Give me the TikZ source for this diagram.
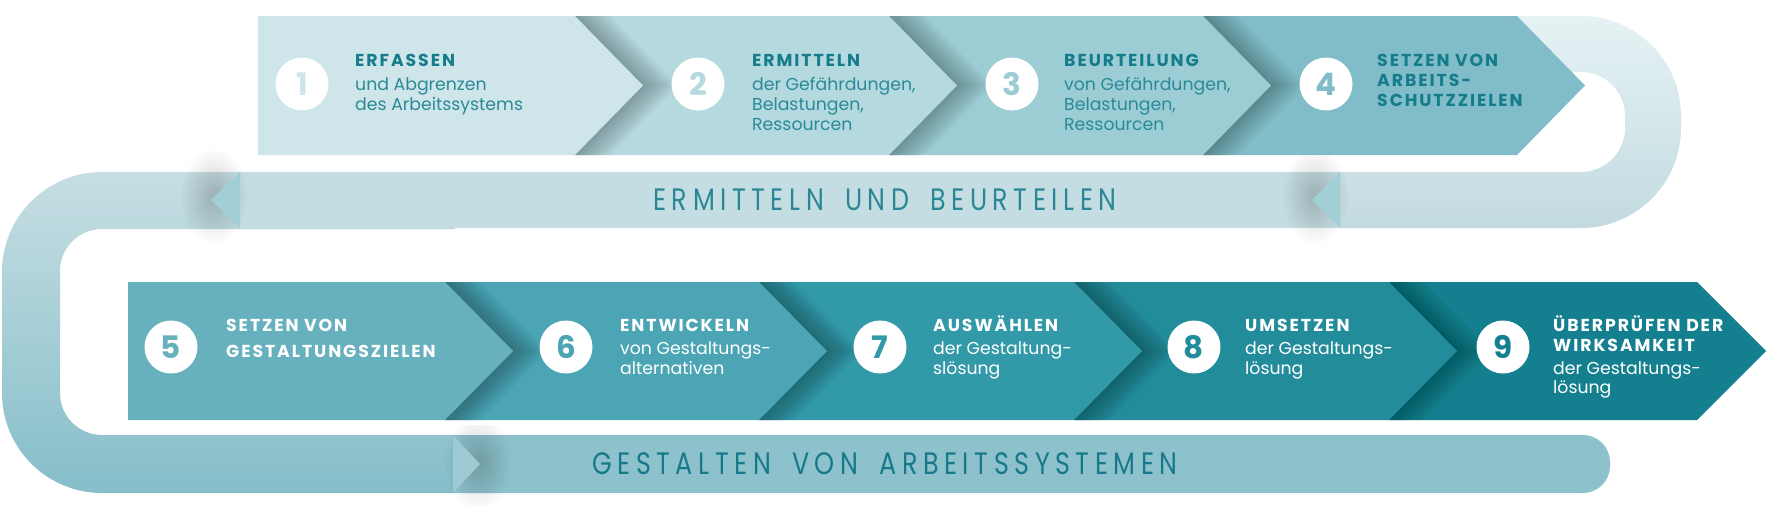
\documentclass[tikz,border=0pt]{standalone}
\usepackage{fontspec}
\setmainfont{Poppins}
\newfontfamily\headfont[LetterSpace=11]{Poppins}
\newfontfamily\bandfont[LetterSpace=18,FakeStretch=0.82,WordSpace=1.7]{Poppins}
\usetikzlibrary{fadings}

\definecolor{sA}{HTML}{CEE5E9}
\definecolor{sB}{HTML}{B4D9DF}
\definecolor{sC}{HTML}{9CCDD4}
\definecolor{sD}{HTML}{80BDC8}
\definecolor{sE}{HTML}{66B1BD}
\definecolor{sF}{HTML}{4BA5B4}
\definecolor{sG}{HTML}{3199A8}
\definecolor{sH}{HTML}{238C9B}
\definecolor{sI}{HTML}{147F8E}
\definecolor{headc}{HTML}{157C8B}
\definecolor{bodyc}{HTML}{2B8A98}
\definecolor{midband}{HTML}{C4DDE2}
\definecolor{lowband}{HTML}{8DC2CC}
\definecolor{arrowc}{HTML}{A2CFD6}
\definecolor{arrowd}{HTML}{9DCAD3}
\definecolor{ruTop}{HTML}{E6F2F4}
\definecolor{ruBot}{HTML}{C2DBE0}
\definecolor{luTop}{HTML}{C6DEE3}
\definecolor{luBot}{HTML}{85BEC9}
\definecolor{labc}{HTML}{2A8795}
\definecolor{labd}{HTML}{17798A}

\tikzfading[name=softglow, inner color=transparent!30, outer color=transparent!100]

\tikzset{
  numcirc/.style={circle, fill=white, minimum size=53pt, inner sep=0pt,
    font=\fontsize{31}{31}\selectfont\bfseries},
  steptext/.style={anchor=base west, inner sep=0pt,
    font=\fontsize{17.3}{20}\selectfont},
  toptext/.style={steptext, text=bodyc},
  lowtext/.style={steptext, text=white},
  bandlabel/.style={inner sep=0pt, font=\bandfont\fontsize{31}{31}\selectfont},
  glow/.style={black, opacity=0.28, path fading=softglow},
}

\newcommand{\hdt}[1]{{\headfont\bfseries\color{headc}#1}}
\newcommand{\hdw}[1]{{\headfont\bfseries #1}}
\newcommand{\chevshadow}[3]{%
  \begin{scope}
    \clip (#1,#2) rectangle (#1+160,#3);
    \foreach \d in {2,4,...,36} {
      \fill[black,opacity=0.014] (#1-20,#2) -- (#1+\d,#2) -- ({#1+68+\d},{(#2+#3)/2}) -- (#1+\d,#3) -- (#1-20,#3) -- cycle;
    }
  \end{scope}}

\begin{document}
\begin{tikzpicture}[x=1pt,y=-1pt]
\useasboundingbox (0,0) rectangle (1769,522);

% ---- top-right U turn
\begin{scope}
  \clip (1340,0) rectangle (1769,260);
  \shade[even odd rule, top color=ruTop, bottom color=ruBot]
    [rounded corners=100pt] (1000,16) rectangle (1681,228)
    [rounded corners=44pt] (1000,72) rectangle (1625,172);
\end{scope}

% ---- left U turn
\begin{scope}
  \clip (0,160) rectangle (455,522);
  \shade[even odd rule, top color=luTop, bottom color=luBot]
    [rounded corners=100pt] (2,172) rectangle (800,493)
    [rounded corners=42pt] (60,229) rectangle (800,435);
\end{scope}

% ---- flat bands
\fill[midband] (240,172) rectangle (1340,228);
\fill[lowband] (455,435) [rounded corners=27pt] -- (1610,435) -- (1610,493) [sharp corners] -- (455,493) -- cycle;

% ---- arrowhead shadows
\begin{scope}
  \clip (0,150) rectangle (1769,250);
  \fill[glow] (214,196) ellipse [x radius=34, y radius=48];
  \fill[glow] (1315,196) ellipse [x radius=34, y radius=48];
\end{scope}
\begin{scope}
  \clip (0,425) rectangle (1769,505);
  \fill[glow] (478,462) ellipse [x radius=34, y radius=48];
\end{scope}

% ---- arrowheads
\fill[arrowc] (240,172) -- (211,200) -- (240,228) -- cycle;
\fill[arrowc] (1340,172) -- (1312,200) -- (1340,228) -- cycle;
\fill[arrowd] (453,435) -- (480,464) -- (453,493) -- cycle;

% ---- top chevron row
\fill[sD] (1203,16) -- (1517,16) -- (1585,85.5) -- (1517,155) -- (1203,155) -- cycle;
\chevshadow{1203}{16}{155}
\fill[sC] (889,16) -- (1203,16) -- (1271,85.5) -- (1203,155) -- (889,155) -- cycle;
\chevshadow{889}{16}{155}
\fill[sB] (575,16) -- (889,16) -- (957,85.5) -- (889,155) -- (575,155) -- cycle;
\chevshadow{575}{16}{155}
\fill[sA] (258,16) -- (575,16) -- (643,85.5) -- (575,155) -- (258,155) -- cycle;

% ---- bottom chevron row
\fill[sI] (1389,282) -- (1697,282) -- (1766,351) -- (1697,420) -- (1389,420) -- cycle;
\chevshadow{1389}{282}{420}
\fill[sH] (1074,282) -- (1389,282) -- (1457,351) -- (1389,420) -- (1074,420) -- cycle;
\chevshadow{1074}{282}{420}
\fill[sG] (759,282) -- (1074,282) -- (1142,351) -- (1074,420) -- (759,420) -- cycle;
\chevshadow{759}{282}{420}
\fill[sF] (445,282) -- (759,282) -- (827,351) -- (759,420) -- (445,420) -- cycle;
\chevshadow{445}{282}{420}
\fill[sE] (128,282) -- (445,282) -- (513,351) -- (445,420) -- (128,420) -- cycle;

% ---- numbers
\node[numcirc, text=sA] (c1) at (302,84) {1};
\node[numcirc, text=sB] (c2) at (698,84) {2};
\node[numcirc, text=sC] (c3) at (1012,84) {3};
\node[numcirc, text=sD] (c4) at (1326,84) {4};
\node[numcirc, text=sE] (c5) at (171,347) {5};
\node[numcirc, text=sF] (c6) at (566,347) {6};
\node[numcirc, text=sG] (c7) at (880,347) {7};
\node[numcirc, text=sH] (c8) at (1194,347) {8};
\node[numcirc, text=sI] (c9) at (1503,347) {9};

% ---- step texts
\node[toptext] (t1) at (355,66) {\begin{tabular}[t]{@{}l@{}}\hdt{ERFASSEN}\\[4pt] und Abgrenzen\\ des Arbeitssystems\end{tabular}};
\node[toptext] (t2) at (752,66) {\begin{tabular}[t]{@{}l@{}}\hdt{ERMITTELN}\\[4pt] der Gefährdungen,\\ Belastungen,\\ Ressourcen\end{tabular}};
\node[toptext] (t3) at (1064,66) {\begin{tabular}[t]{@{}l@{}}\hdt{BEURTEILUNG}\\[4pt] von Gefährdungen,\\ Belastungen,\\ Ressourcen\end{tabular}};
\node[toptext] (t4) at (1377,66) {\begin{tabular}[t]{@{}l@{}}\hdt{SETZEN VON}\\ \hdt{ARBEITS-}\\ \hdt{SCHUTZZIELEN}\end{tabular}};

\node[lowtext] (t5) at (226,331.5) {\begin{tabular}[t]{@{}l@{}}\hdw{SETZEN VON}\\[5.5pt] \hdw{GESTALTUNGSZIELEN}\end{tabular}};
\node[lowtext] (t6) at (620,331.5) {\begin{tabular}[t]{@{}l@{}}\hdw{ENTWICKELN}\\[3pt] von Gestaltungs-\\ alternativen\end{tabular}};
\node[lowtext] (t7) at (933,331.5) {\begin{tabular}[t]{@{}l@{}}\hdw{AUSWÄHLEN}\\[3pt] der Gestaltung-\\ slösung\end{tabular}};
\node[lowtext] (t8) at (1245,331.5) {\begin{tabular}[t]{@{}l@{}}\hdw{UMSETZEN}\\[3pt] der Gestaltungs-\\ lösung\end{tabular}};
\node[lowtext] (t9) at (1553,331.5) {\begin{tabular}[t]{@{}l@{}}\hdw{ÜBERPRÜFEN DER}\\[-0.5pt] \hdw{WIRKSAMKEIT}\\[3pt] der Gestaltungs-\\[-1pt] lösung\end{tabular}};

% ---- band labels
\node[bandlabel, text=labc] (l1) at (885,200) {ERMITTELN UND BEURTEILEN};
\node[bandlabel, text=labd] (l2) at (885,464) {GESTALTEN VON ARBEITSSYSTEMEN};
\end{tikzpicture}
\end{document}
